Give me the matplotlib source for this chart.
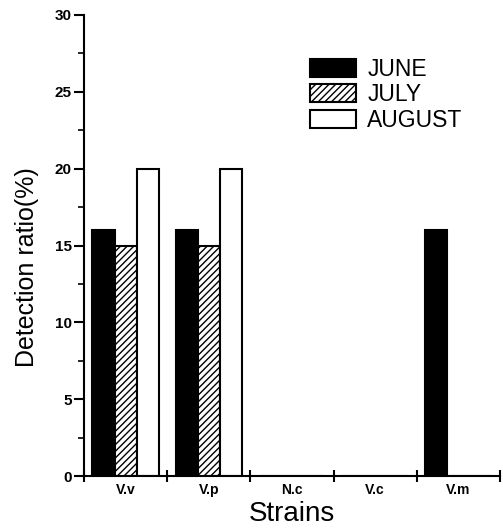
import matplotlib
matplotlib.use("Agg")
import matplotlib.pyplot as plt
import numpy as np
from matplotlib.ticker import MultipleLocator, FixedLocator, NullFormatter

strains = ["V.v", "V.p", "N.c", "V.c", "V.m"]
june = [16, 16, 0, 0, 16]
july = [15, 15, 0, 0, 0]
august = [20, 20, 0, 0, 0]
series_names = ["JUNE", "JULY", "AUGUST"]

plt.rcParams['font.family'] = ['Liberation Sans', 'DejaVu Sans']
plt.rcParams['hatch.linewidth'] = 1.0

fig = plt.figure(figsize=(5.03, 5.29), dpi=100)
ax = fig.add_axes([84/503, 1-476/529, (500-84)/503, (476-15)/529])

x = np.arange(len(strains)) + 0.5
w = 0.266
ax.bar(x - w, june, w, color='black', edgecolor='black', linewidth=1.5, label=series_names[0])
ax.bar(x, july, w, color='white', edgecolor='black', linewidth=1.5, hatch='/////', label=series_names[1])
ax.bar(x + w, august, w, color='white', edgecolor='black', linewidth=1.5, label=series_names[2])

ax.set_xlim(0, 5)
ax.set_ylim(0, 30)
ax.spines['top'].set_visible(False)
ax.spines['right'].set_visible(False)
for s in ['left', 'bottom']:
    ax.spines[s].set_linewidth(1.5)

ax.yaxis.set_major_locator(MultipleLocator(5))
ax.yaxis.set_minor_locator(MultipleLocator(2.5))
ax.tick_params(axis='y', which='major', direction='out', length=7, width=1.5, labelsize=11, pad=2)
ax.tick_params(axis='y', which='minor', direction='out', length=4, width=1.2)
for lab in ax.get_yticklabels():
    lab.set_fontweight('bold')

ax.xaxis.set_major_locator(FixedLocator(np.arange(0, 6)))
ax.xaxis.set_major_formatter(NullFormatter())
ax.xaxis.set_minor_locator(FixedLocator(x))
ax.set_xticklabels(strains, minor=True, fontweight='bold', fontsize=10)
ax.tick_params(axis='x', which='major', direction='inout', length=8, width=1.5)
ax.tick_params(axis='x', which='minor', length=0, pad=5)

ax.set_ylabel("Detection ratio(%)", fontsize=18)
ax.yaxis.set_label_coords(-0.108, (476-267)/461)
ax.set_xlabel("Strains", fontsize=20, labelpad=3)

leg = ax.legend(loc='upper left', bbox_to_anchor=(310/503, 1-58/529), bbox_transform=fig.transFigure,
                frameon=False, fontsize=16.5, handlelength=2.0, handleheight=0.85,
                handletextpad=0.5, labelspacing=0.1, borderpad=0, borderaxespad=0)

fig.savefig("out.png", dpi=100)
